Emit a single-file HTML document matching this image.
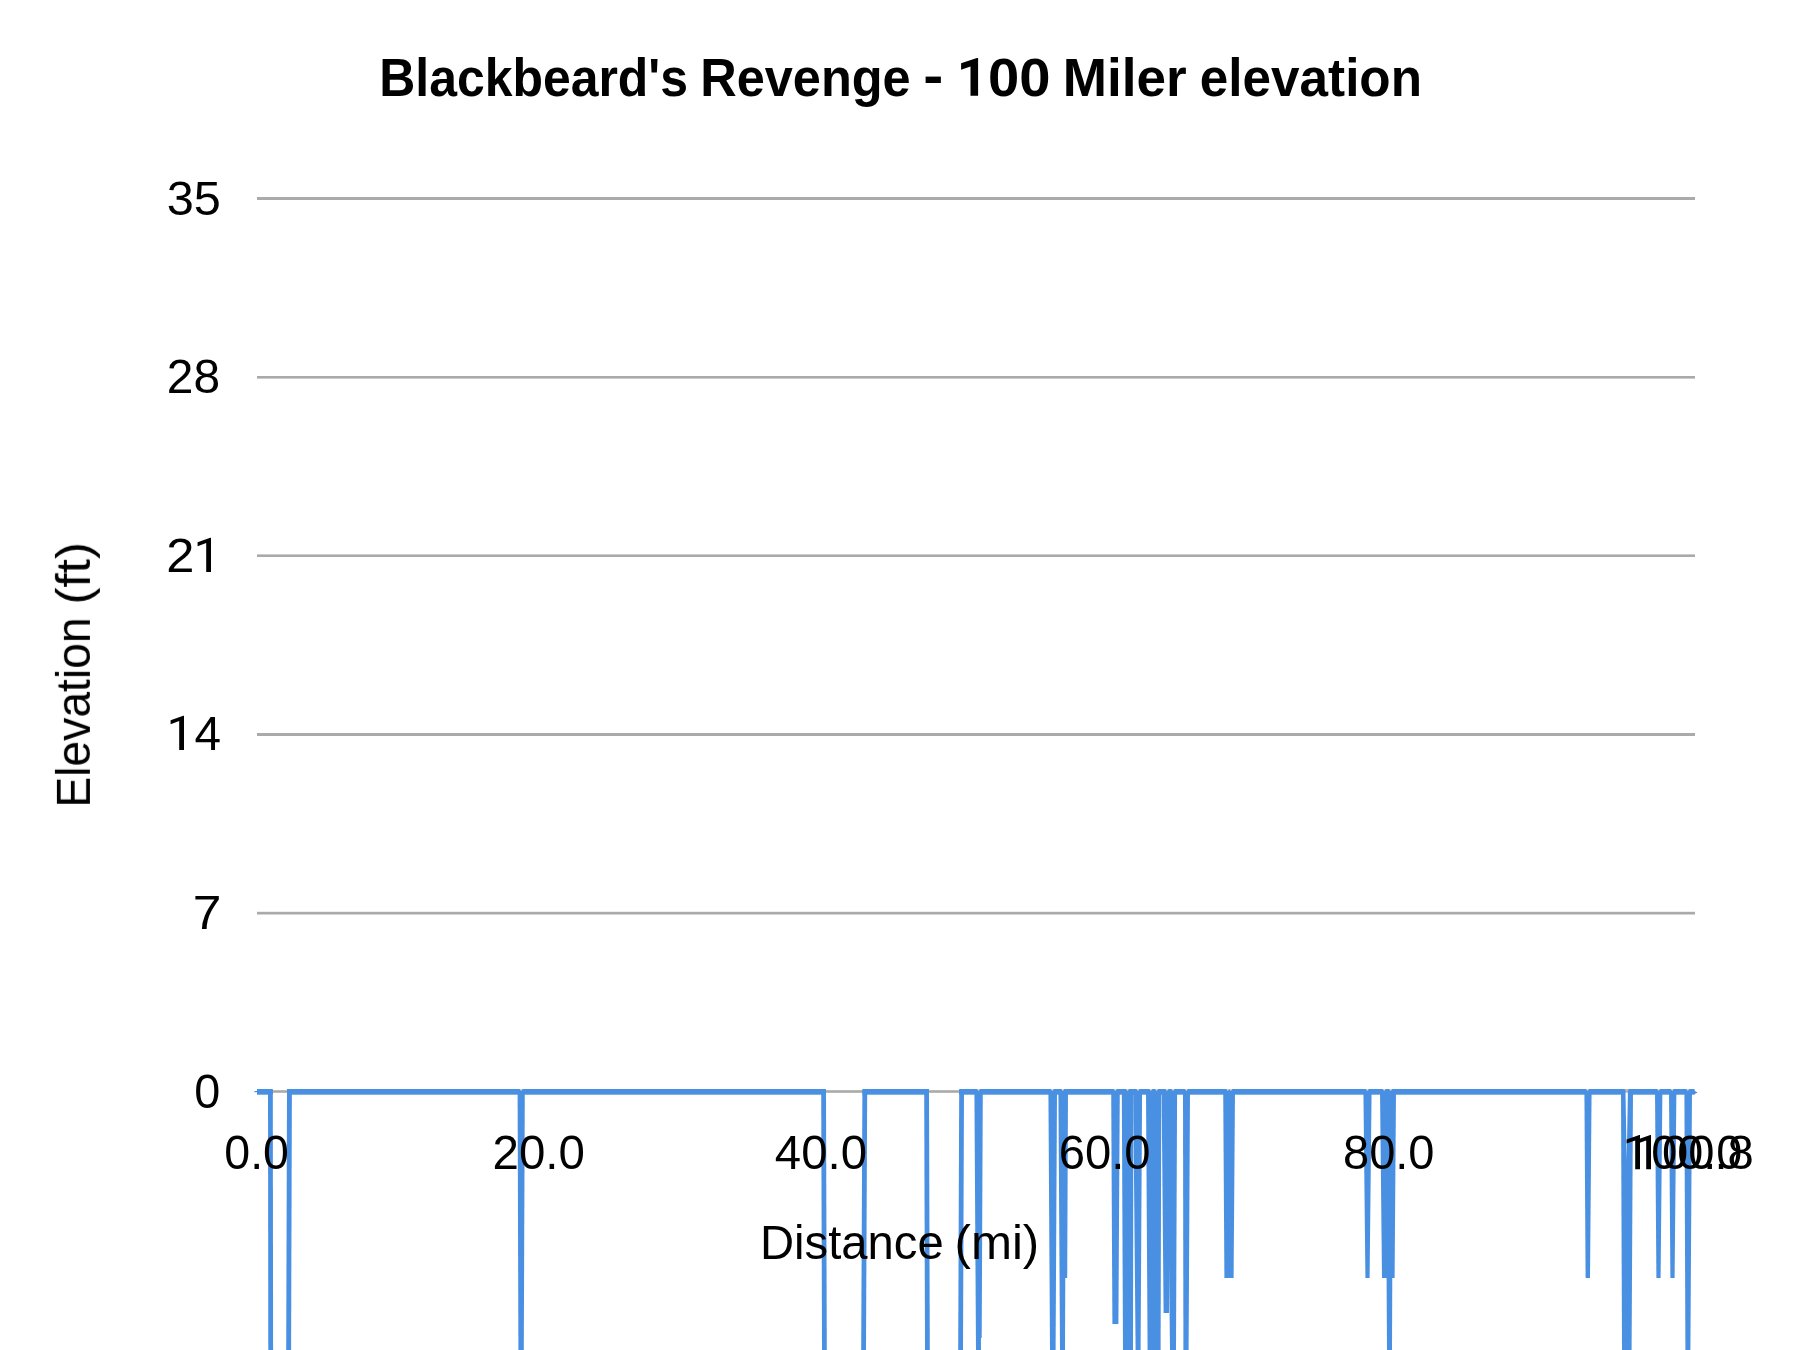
<!DOCTYPE html>
<html><head><meta charset="utf-8"><title>Blackbeard's Revenge - 100 Miler elevation</title>
<style>
html,body{margin:0;padding:0;background:#fff;width:1800px;height:1350px;overflow:hidden}
svg{display:block;position:absolute;left:0;top:0}
text{font-family:"Liberation Sans",sans-serif}
</style></head><body>
<svg width="1800" height="1350" viewBox="0 0 1800 1350">
<rect width="1800" height="1350" fill="#fff"/>
<rect x="257" y="197" width="1438" height="3" fill="#aaaaaa"/>
<rect x="257" y="376" width="1438" height="2.6" fill="#aaaaaa"/>
<rect x="257" y="554.4" width="1438" height="2.6" fill="#aaaaaa"/>
<rect x="257" y="733" width="1438" height="3" fill="#aaaaaa"/>
<rect x="257" y="911.8" width="1438" height="2.7" fill="#aaaaaa"/>
<rect x="257" y="1090.2" width="1438" height="2.6" fill="#aaaaaa"/>
<g fill="#4a90e2">
<rect x="254.4" y="1091" width="3" height="1.2"/>
<polygon points="1694,1090.6 1697.6,1092.6 1694,1094.4"/>
<rect x="257" y="1089" width="15.8" height="5.7"/>
<rect x="287" y="1089" width="539" height="5.7"/>
<rect x="862.4" y="1089" width="66.6" height="5.7"/>
<rect x="959.2" y="1089" width="735.3" height="5.7"/>
<polygon points="268,1090 272.8,1090 273.1,1350 268.3,1350"/>
<polygon points="287,1090 291.9,1090 291.1,1350 286.2,1350"/>
<polygon points="517.6,1090 524.8,1090 523.8,1350 518.4,1350"/>
<polygon points="821.2,1090 826,1090 826.8,1350 822,1350"/>
<polygon points="862.4,1090 867.2,1090 866,1350 861.2,1350"/>
<polygon points="924.2,1090 929,1090 929.8,1350 925,1350"/>
<polygon points="959.2,1090 964,1090 963,1350 958.2,1350"/>
<polygon points="974.4,1090 979.6,1090 981,1350 976,1350"/>
<polygon points="977.5,1090 982.8,1090 981.7,1338 977,1338"/>
<polygon points="1048.4,1090 1057,1090 1055.6,1350 1050,1350"/>
<polygon points="1058.4,1090 1066,1090 1065,1350 1060,1350"/>
<polygon points="1062,1090 1068,1090 1067.2,1278 1064.6,1278"/>
<polygon points="1111.2,1090 1119.8,1090 1118.4,1324 1112.4,1324"/>
<polygon points="1121.8,1090 1133.4,1090 1133,1350 1123,1350"/>
<polygon points="1133.2,1090 1142.1,1090 1140.6,1350 1135.6,1350"/>
<polygon points="1146,1090 1161.3,1090 1160.6,1350 1147.6,1350"/>
<polygon points="1161.6,1090 1170.5,1090 1169,1313 1163.6,1313"/>
<polygon points="1167,1090 1177.1,1090 1176,1350 1170,1350"/>
<polygon points="1183,1090 1190,1090 1188.6,1350 1183.4,1350"/>
<polygon points="1223.2,1090 1235,1090 1233.6,1278 1224.4,1278"/>
<polygon points="1363.4,1090 1371.6,1090 1369.6,1278 1365.4,1278"/>
<polygon points="1380,1090 1396,1090 1394.6,1278 1382,1278"/>
<polygon points="1385.5,1090 1393,1090 1392,1350 1387,1350"/>
<polygon points="1584.4,1090 1591.6,1090 1590,1278 1585.6,1278"/>
<polygon points="1621,1090 1633,1090 1631.6,1350 1622,1350"/>
<polygon points="1655,1090 1662.4,1090 1660.6,1278 1656.4,1278"/>
<polygon points="1669,1090 1676.4,1090 1674.6,1278 1670.4,1278"/>
<polygon points="1684.4,1090 1692,1090 1690.4,1350 1685.4,1350"/>
</g>
<polygon points="519.7,1089 522.7,1089 521.2,1090.9" fill="#dcd7d0"/>
<polygon points="977,1089 980,1089 978.5,1090.9" fill="#dcd7d0"/>
<polygon points="1050.8,1089 1053.8,1089 1052.3,1090.9" fill="#dcd7d0"/>
<polygon points="1061.3,1089 1064.3,1089 1062.8,1090.9" fill="#dcd7d0"/>
<polygon points="1113.8,1089 1116.8,1089 1115.3,1090.9" fill="#dcd7d0"/>
<polygon points="1126,1089 1129,1089 1127.5,1090.9" fill="#dcd7d0"/>
<polygon points="1136.5,1089 1139.5,1089 1138,1090.9" fill="#dcd7d0"/>
<polygon points="1149.4,1089 1152.4,1089 1150.9,1090.9" fill="#dcd7d0"/>
<polygon points="1155.2,1089 1158.2,1089 1156.7,1090.9" fill="#dcd7d0"/>
<polygon points="1165.5,1089 1168.5,1089 1167,1090.9" fill="#dcd7d0"/>
<polygon points="1171.5,1089 1174.5,1089 1173,1090.9" fill="#dcd7d0"/>
<polygon points="1184.9,1089 1187.9,1089 1186.4,1090.9" fill="#dcd7d0"/>
<polygon points="1226.4,1089 1229.4,1089 1227.9,1090.9" fill="#dcd7d0"/>
<polygon points="1229.3,1089 1232.3,1089 1230.8,1090.9" fill="#dcd7d0"/>
<polygon points="1365.8,1089 1368.8,1089 1367.3,1090.9" fill="#dcd7d0"/>
<polygon points="1382.7,1089 1385.7,1089 1384.2,1090.9" fill="#dcd7d0"/>
<polygon points="1389.2,1089 1392.2,1089 1390.7,1090.9" fill="#dcd7d0"/>
<polygon points="1586,1089 1589,1089 1587.5,1090.9" fill="#dcd7d0"/>
<polygon points="1657.2,1089 1660.2,1089 1658.7,1090.9" fill="#dcd7d0"/>
<polygon points="1670.7,1089 1673.7,1089 1672.2,1090.9" fill="#dcd7d0"/>
<polygon points="1686.3,1089 1689.3,1089 1687.8,1090.9" fill="#dcd7d0"/>
<polygon points="1624.5,1089 1629,1089 1626.7,1093.2" fill="#b8b8b8"/>
<polygon points="1625.5,1092.6 1627.9,1092.6 1626.7,1160" fill="#fff"/>
<g font-family="'Liberation Sans', sans-serif" fill="#000" style="will-change:opacity;opacity:0.999">
<text x="379.22" y="95.50" font-size="54.5" font-weight="bold" textLength="308.72" lengthAdjust="spacingAndGlyphs">Blackbeard&#39;s</text>
<text x="700.17" y="95.50" font-size="54.5" font-weight="bold" textLength="210.52" lengthAdjust="spacingAndGlyphs">Revenge</text>
<text x="923.23" y="93.60" font-size="54.5" font-weight="bold" textLength="20.05" lengthAdjust="spacingAndGlyphs">-</text>
<text x="987.90" y="95.50" font-size="54.5" font-weight="bold" textLength="62.53" lengthAdjust="spacingAndGlyphs">00</text>
<text x="1062.75" y="95.50" font-size="54.5" font-weight="bold" textLength="123.92" lengthAdjust="spacingAndGlyphs">Miler</text>
<text x="1199.84" y="95.50" font-size="54.5" font-weight="bold" textLength="222.16" lengthAdjust="spacingAndGlyphs">elevation</text>
<text x="166.78" y="214.50" font-size="47.2" textLength="54.09" lengthAdjust="spacingAndGlyphs">35</text>
<text x="166.76" y="393.10" font-size="47.2" textLength="53.29" lengthAdjust="spacingAndGlyphs">28</text>
<text x="166.27" y="571.70" font-size="47.2" textLength="28.16" lengthAdjust="spacingAndGlyphs">2</text>
<text x="194.45" y="750.30" font-size="47.2" textLength="26.55" lengthAdjust="spacingAndGlyphs">4</text>
<text x="192.86" y="928.90" font-size="47.2" textLength="28.65" lengthAdjust="spacingAndGlyphs">7</text>
<text x="194.16" y="1107.50" font-size="47.2" textLength="26.02" lengthAdjust="spacingAndGlyphs">0</text>
<text x="224.30" y="1169.10" font-size="47.2" textLength="64.72" lengthAdjust="spacingAndGlyphs">0.0</text>
<text x="492.57" y="1169.10" font-size="47.2" textLength="92.36" lengthAdjust="spacingAndGlyphs">20.0</text>
<text x="774.86" y="1169.10" font-size="47.2" textLength="92.11" lengthAdjust="spacingAndGlyphs">40.0</text>
<text x="1058.74" y="1169.10" font-size="47.2" textLength="91.84" lengthAdjust="spacingAndGlyphs">60.0</text>
<text x="1342.97" y="1169.10" font-size="47.2" textLength="91.55" lengthAdjust="spacingAndGlyphs">80.0</text>
<text x="1651.18" y="1169.10" font-size="47.2" textLength="91.08" lengthAdjust="spacingAndGlyphs">00.0</text>
<text x="1662.07" y="1169.10" font-size="47.2" textLength="91.79" lengthAdjust="spacingAndGlyphs">00.8</text>
<text x="759.97" y="1259.20" font-size="47.2" textLength="183.69" lengthAdjust="spacingAndGlyphs">Distance</text>
<text x="954.47" y="1259.20" font-size="47.2" textLength="84.81" lengthAdjust="spacingAndGlyphs">(mi)</text>
<polygon points="978.10,95.85 970.50,95.85 970.50,66.45 961.10,69.75 961.10,63.15 976.90,57.95 978.10,57.95"/>
<polygon points="211.00,571.90 206.20,571.90 206.20,543.10 197.60,546.30 197.60,542.30 210.25,537.80 211.00,537.80"/>
<polygon points="184.00,749.90 179.20,749.90 179.20,721.10 170.60,724.30 170.60,720.30 183.25,715.80 184.00,715.80"/>
<polygon points="1640.00,1169.20 1635.20,1169.20 1635.20,1140.40 1626.60,1143.60 1626.60,1139.60 1639.25,1135.10 1640.00,1135.10"/>
<polygon points="1651.00,1169.20 1646.20,1169.20 1646.20,1140.40 1637.60,1143.60 1637.60,1139.60 1650.25,1135.10 1651.00,1135.10"/>
<g transform="translate(89.9,803.8) rotate(-90)">
<text x="-3.77" y="0.00" font-size="47.2" textLength="190.13" lengthAdjust="spacingAndGlyphs">Elevation</text>
<text x="199.25" y="0.00" font-size="47.2" textLength="62.65" lengthAdjust="spacingAndGlyphs">(ft)</text>
</g>
</g>
</svg>
</body></html>
